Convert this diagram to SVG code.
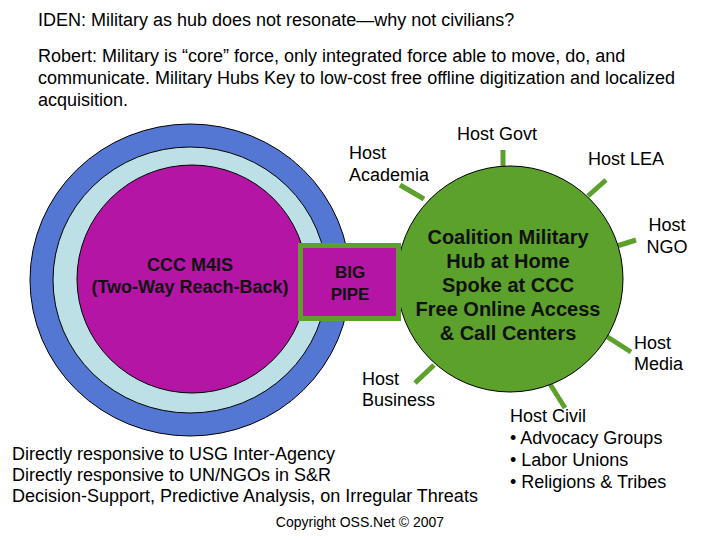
<svg xmlns="http://www.w3.org/2000/svg" width="720" height="540" viewBox="0 0 720 540">
<style>
text{font-family:"Liberation Sans",Arial,sans-serif;fill:#000}
.t{font-size:18px}
.h{font-size:18px}
.b{font-size:20px;font-weight:bold;text-anchor:middle;fill:#111}
.s{stroke:#5ca12c;stroke-width:5}
.e{stroke:#000;stroke-width:1}
</style>
<rect width="720" height="540" fill="#fff"/>
<text class="t" x="38" y="26">IDEN:  Military as hub does not resonate—why not civilians?</text>
<text class="t" x="38" y="62">Robert:  Military is “core” force, only integrated force able to move, do, and</text>
<text class="t" x="38" y="84">communicate.  Military Hubs Key to low-cost free offline digitization and localized</text>
<text class="t" x="38" y="106">acquisition.</text>
<g id="ccc">
<ellipse class="e" cx="190" cy="280" rx="160" ry="156" fill="#5577d4"/>
<ellipse class="e" cx="190" cy="280" rx="137" ry="133" fill="#bde0e6"/>
<ellipse class="e" cx="192" cy="279" rx="115" ry="114" fill="#b515a5"/>
<text class="b" x="190" y="271" style="font-size:18px">CCC M4IS</text>
<text class="b" x="190" y="293" style="font-size:18px">(Two-Way Reach-Back)</text>
</g>
<g id="connectors">
<line class="s" x1="503" y1="150" x2="503" y2="168"/>
<line class="s" x1="606" y1="180" x2="588" y2="196"/>
<line class="s" x1="636" y1="240" x2="617" y2="246"/>
<line class="s" x1="631" y1="352" x2="606" y2="336"/>
<line class="s" x1="565" y1="408" x2="550" y2="384"/>
<line class="s" x1="415" y1="383" x2="434" y2="365"/>
<line class="s" x1="400" y1="185" x2="424" y2="199"/>
</g>
<g id="hub">
<circle class="e" cx="510" cy="279" r="113" fill="#5ca12c"/>
<text class="b" x="508" y="244">Coalition Military</text>
<text class="b" x="508" y="268">Hub at Home</text>
<text class="b" x="508" y="292">Spoke at CCC</text>
<text class="b" x="508" y="316">Free Online Access</text>
<text class="b" x="508" y="340">&amp; Call Centers</text>
</g>
<g id="pipe">
<rect x="300.5" y="245.5" width="98" height="73" fill="#b515a5" stroke="#5ca12c" stroke-width="5"/>
<text class="b" x="350" y="278" style="font-size:17px">BIG</text>
<text class="b" x="350" y="300" style="font-size:17px">PIPE</text>
</g>
<g id="labels">
<text class="h" x="349" y="159">Host</text>
<text class="h" x="349" y="181">Academia</text>
<text class="h" x="457" y="140">Host Govt</text>
<text class="h" x="588" y="165">Host LEA</text>
<text class="h" x="667" y="231" text-anchor="middle">Host</text>
<text class="h" x="667" y="253" text-anchor="middle">NGO</text>
<text class="h" x="634" y="349">Host</text>
<text class="h" x="634" y="370">Media</text>
<text class="h" x="362" y="385">Host</text>
<text class="h" x="362" y="406">Business</text>
<text class="h" x="510" y="422">Host Civil</text>
<text class="h" x="510" y="444">• Advocacy Groups</text>
<text class="h" x="510" y="466">• Labor Unions</text>
<text class="h" x="510" y="488">• Religions &amp; Tribes</text>
</g>
<text class="t" x="12" y="460">Directly responsive to USG Inter-Agency</text>
<text class="t" x="12" y="481">Directly responsive to UN/NGOs in S&amp;R</text>
<text class="t" x="12" y="502">Decision-Support, Predictive Analysis, on Irregular Threats</text>
<text x="360" y="527" text-anchor="middle" style="font-size:14px">Copyright OSS.Net © 2007</text>
</svg>
